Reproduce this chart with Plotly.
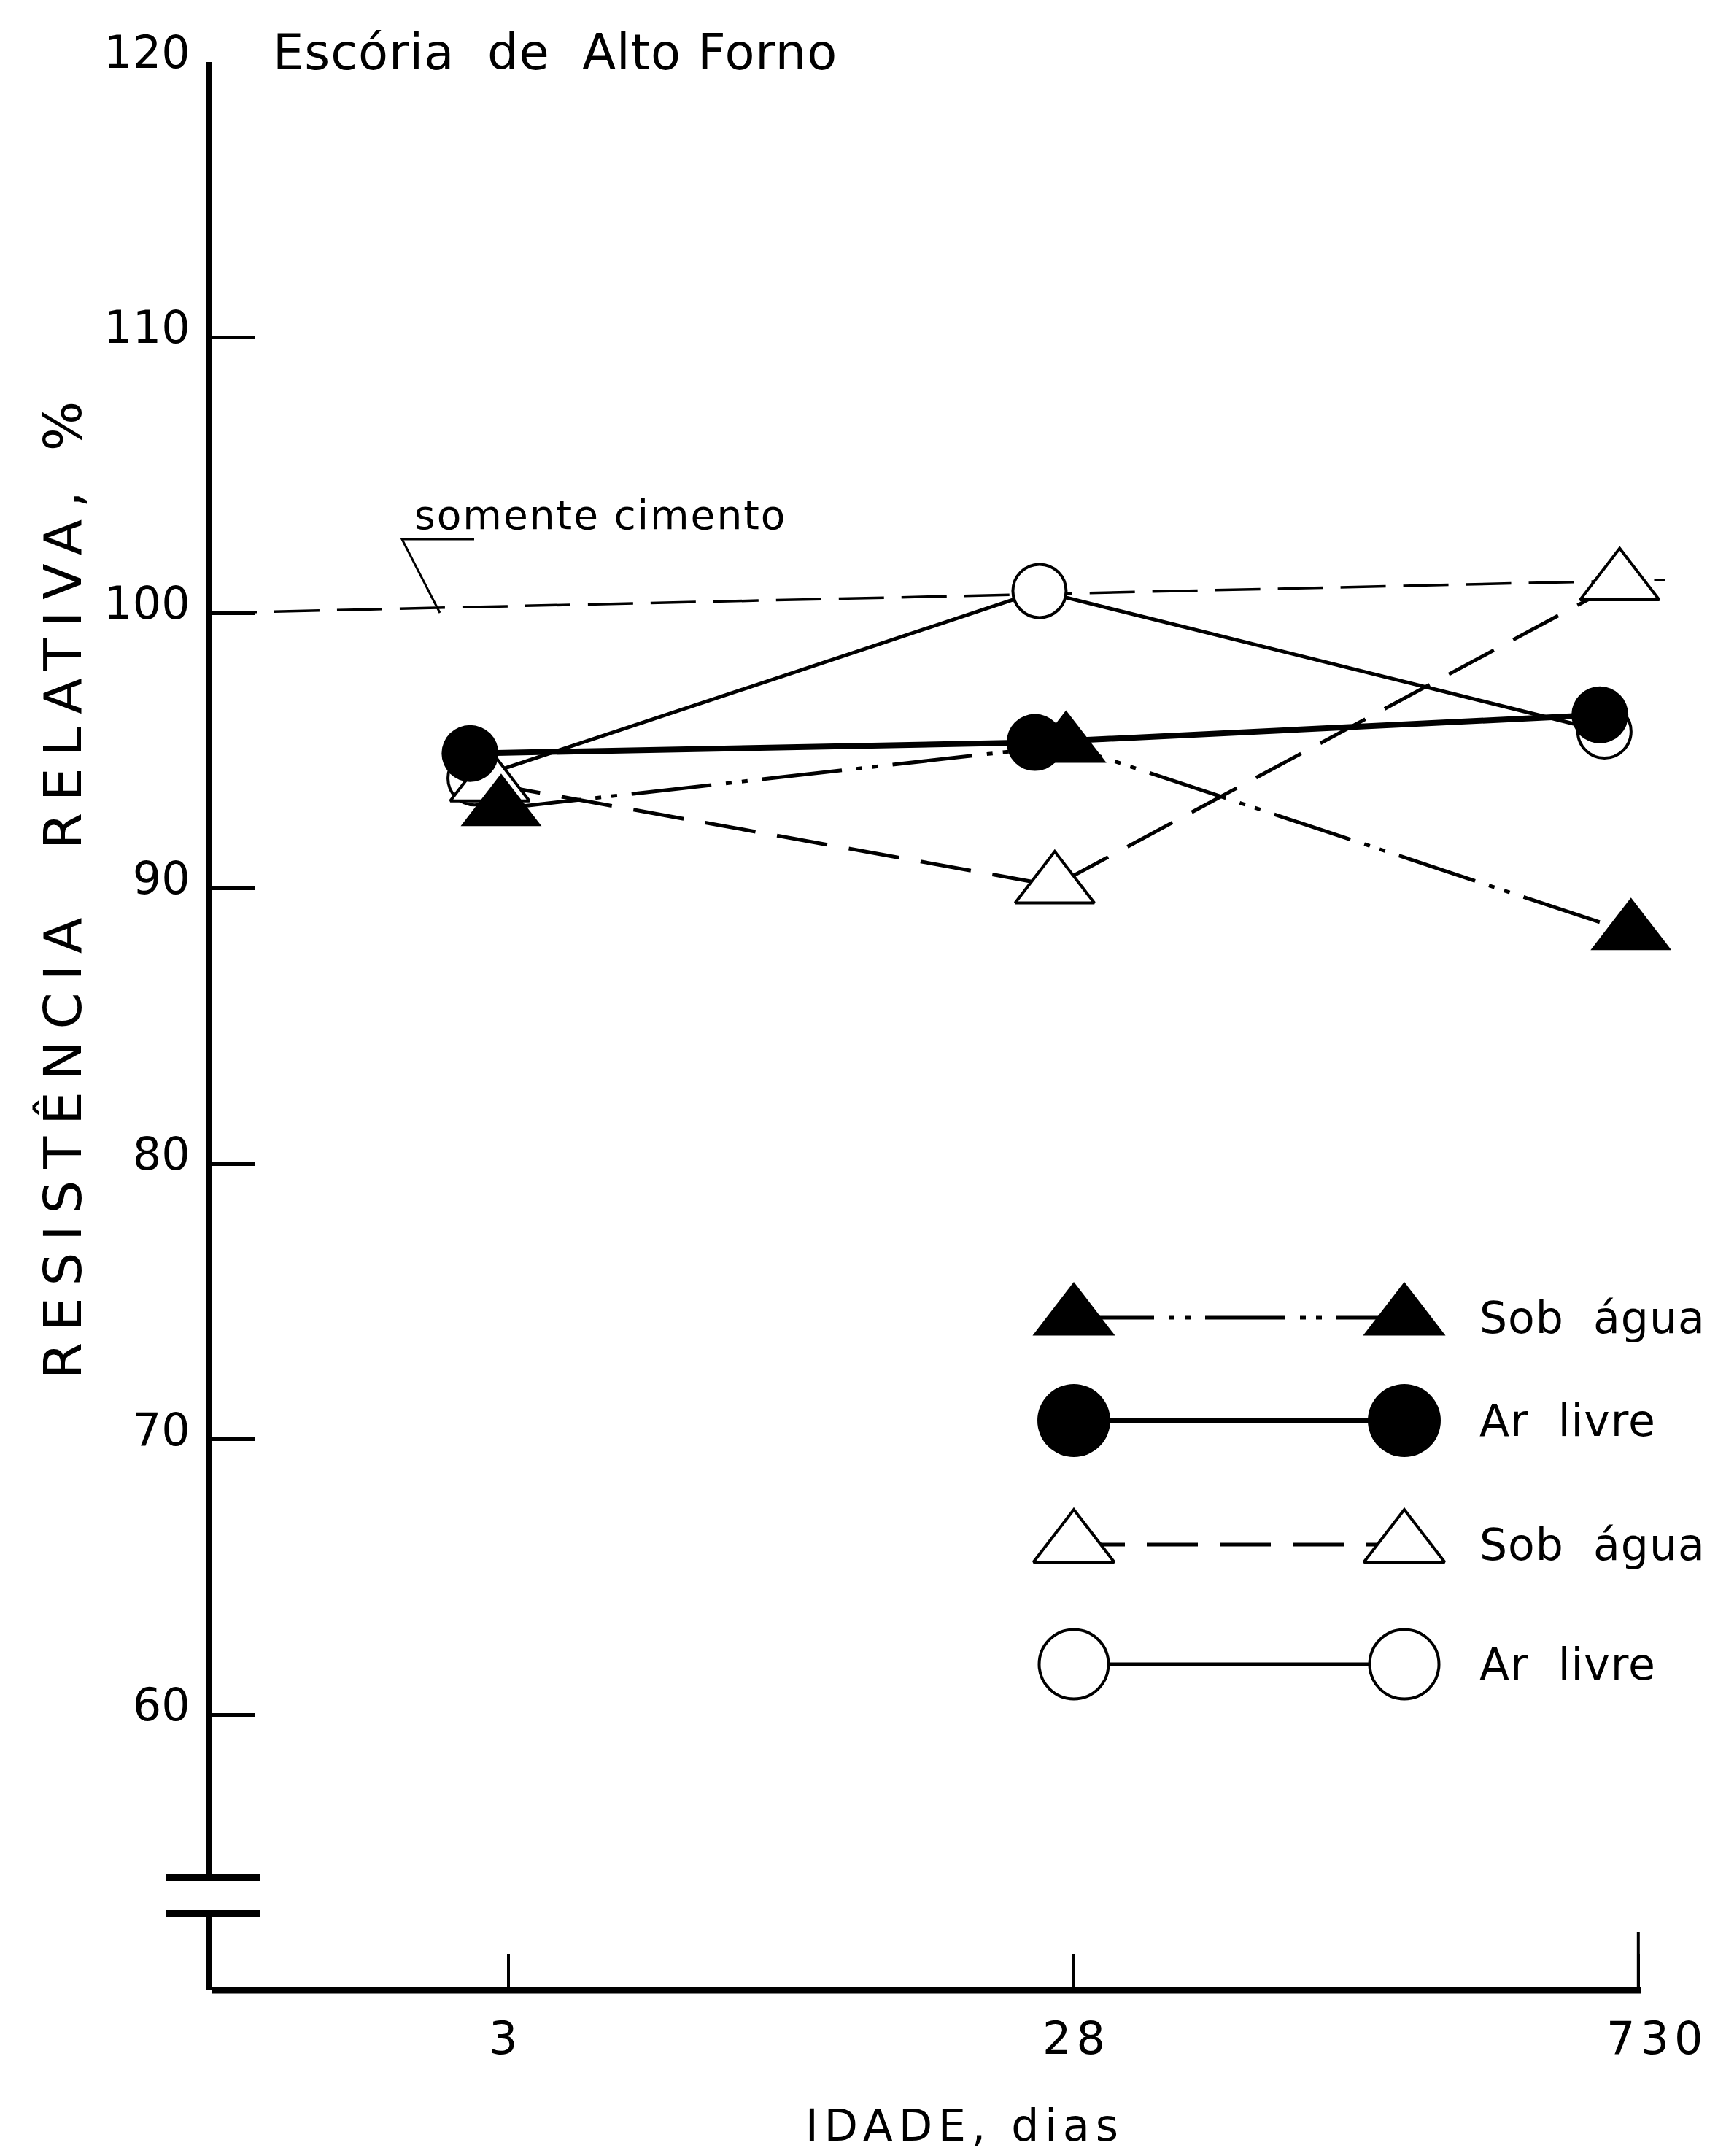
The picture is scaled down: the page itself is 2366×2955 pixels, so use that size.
import plotly.graph_objects as go

# ---------------------------------------------------------------------------
# Data: relative compressive strength (%) of blast-furnace slag mortars
# ---------------------------------------------------------------------------
ages = ["3", "28", "730"]                 # age, days (category axis)
age_pos = [1, 2, 3]

sob_agua_cheio = [92.9, 95.2, 88.4]       # filled triangles, cured under water
ar_livre_cheio = [94.9, 95.3, 96.3]       # filled circles, cured in open air
sob_agua_vazio = [93.8, 90.1, 101.1]      # open triangles, cured under water
ar_livre_vazio = [94.0, 100.8, 95.7]      # open circles, cured in open air
somente_cimento = [100.0, 101.2]          # plain-cement reference line

y_ticks = [60, 70, 80, 90, 100, 110, 120]
legend_labels = ["Sob água", "Ar livre", "Sob água", "Ar livre"]

# ---------------------------------------------------------------------------
# Page geometry (pixels) and helpers
# ---------------------------------------------------------------------------
W, H = 2366, 2955
FONT = "DejaVu Sans"
INK = "black"

PLOT_L, PLOT_R = 290, 2300          # plot area, horizontal
PLOT_T, PLOT_B = 85, 2728           # plot area, vertical
X1_PX, X_SCALE = 697, 774.4         # pixel of first age tick, px per category
X_AXIS_END_PX = 2249                # x axis line stops at the last tick
CEMENT_END_PX = 2282

def px_x(p):
    return p / W

def px_y(p):
    return 1 - p / H

def cat_x(p):
    return 1 + (p - X1_PX) / X_SCALE

x_min, x_max = cat_x(PLOT_L), cat_x(PLOT_R)
y_min, y_max = 50.0, 120.0

# small horizontal dodge so overlapping symbols stay readable
dodge = {"tri_f": -0.013, "circ_f": -0.068, "tri_o": -0.033, "circ_o": -0.060}
# horizontal nudge of the age labels (px)
age_label_shift = [-4, 4, 26]

DASH_DOT2 = "110px,20px,8px,14px,8px,20px"
DASHED = "70px,30px"
CEMENT_DASH = "62px,24px"

styles = {
    "tri_f": dict(symbol="triangle-up", size=96, color=INK, line=dict(width=0, color=INK)),
    "circ_f": dict(symbol="circle", size=78, color=INK, line=dict(width=0, color=INK)),
    "tri_o": dict(symbol="triangle-up", size=94, color="white", line=dict(width=4, color=INK)),
    "circ_o": dict(symbol="circle", size=73, color="white", line=dict(width=4, color=INK)),
}
line_styles = {
    "tri_f": dict(color=INK, width=5, dash=DASH_DOT2),
    "circ_f": dict(color=INK, width=8),
    "tri_o": dict(color=INK, width=5, dash=DASHED),
    "circ_o": dict(color=INK, width=5),
}

fig = go.Figure()

# plain cement reference
fig.add_trace(go.Scatter(
    x=[x_min, cat_x(CEMENT_END_PX)], y=somente_cimento, mode="lines",
    line=dict(color=INK, width=3.5, dash=CEMENT_DASH), hoverinfo="skip",
    showlegend=False))

series = [
    ("circ_o", ar_livre_vazio),
    ("tri_o", sob_agua_vazio),
    ("circ_f", ar_livre_cheio),
    ("tri_f", sob_agua_cheio),
]
for key, vals in series:
    fig.add_trace(go.Scatter(
        x=[p + dodge[key] for p in age_pos], y=vals, mode="lines+markers",
        line=line_styles[key], marker=styles[key], cliponaxis=False,
        showlegend=False))

# hand-drawn style legend: marker - line - marker, then the label
legend_rows = [1806, 1947, 2117, 2281]
legend_keys = ["tri_f", "circ_f", "tri_o", "circ_o"]
LEG_X0, LEG_X1, LEG_TXT = 1472, 1925, 2026
for key, row, label in zip(legend_keys, legend_rows, legend_labels):
    mk = dict(styles[key])
    mk["size"] = mk["size"] + (22 if mk["symbol"] == "circle" else 2)
    fig.add_trace(go.Scatter(
        x=[LEG_X0, LEG_X1], y=[row, row], mode="lines+markers",
        line=line_styles[key], marker=mk, xaxis="x2", yaxis="y2",
        cliponaxis=False, showlegend=False, hoverinfo="skip"))

annotations = []
for row, label in zip(legend_rows, legend_labels):
    annotations.append(dict(
        x=px_x(LEG_TXT), y=px_y(row), xref="paper", yref="paper",
        xanchor="left", yanchor="middle", showarrow=False,
        text=f'<span style="letter-spacing:1px">{label.replace(" ", "  ")}</span>',
        font=dict(family=FONT, size=60, color=INK)))

# age labels under the x axis
for pos, label, shift in zip(age_pos, ages, age_label_shift):
    annotations.append(dict(
        x=pos, y=px_y(2793), xref="x", yref="paper", xshift=shift,
        xanchor="center", yanchor="middle", showarrow=False,
        text=f'<span style="letter-spacing:7px">{label}</span>',
        font=dict(family=FONT, size=62, color=INK)))

annotations += [
    dict(x=px_x(372), y=px_y(72), xref="paper", yref="paper",
         xanchor="left", yanchor="middle", showarrow=False,
         text='<span style="letter-spacing:1px">Escória  de  Alto Forno</span>',
         font=dict(family=FONT, size=67, color=INK)),
    dict(x=px_x(86), y=px_y(1212), xref="paper", yref="paper",
         xanchor="center", yanchor="middle", showarrow=False, textangle=-90,
         text='<span style="letter-spacing:16px">RESISTÊNCIA  RELATIVA, %</span>',
         font=dict(family=FONT, size=72, color=INK)),
    dict(x=px_x(1322), y=px_y(2913), xref="paper", yref="paper",
         xanchor="center", yanchor="middle", showarrow=False,
         text='<span style="letter-spacing:8px">IDADE, dias</span>',
         font=dict(family=FONT, size=60, color=INK)),
    dict(x=px_x(566), y=px_y(706), xref="paper", yref="paper",
         xanchor="left", yanchor="middle", showarrow=False,
         text='<span style="letter-spacing:2px">somente cimento</span>',
         font=dict(family=FONT, size=55, color=INK)),
]

def seg(x0, y0, x1, y1, width, color=INK):
    return dict(type="line", xref="paper", yref="paper",
                x0=px_x(x0), y0=px_y(y0), x1=px_x(x1), y1=px_y(y1),
                line=dict(color=color, width=width), layer="above")

shapes = [
    # x axis line, ending at the last age tick
    dict(type="line", xref="x", yref="paper", x0=x_min, x1=cat_x(X_AXIS_END_PX),
         y0=px_y(PLOT_B), y1=px_y(PLOT_B), line=dict(color=INK, width=9)),
    # taller end tick closing the x axis
    dict(type="line", xref="x", yref="paper", x0=3, x1=3,
         y0=px_y(PLOT_B), y1=px_y(PLOT_B - 80), line=dict(color=INK, width=4)),
    # axis break on the y axis
    dict(type="rect", xref="paper", yref="paper",
         x0=px_x(PLOT_L - 15), x1=px_x(PLOT_L + 15), y0=px_y(2578), y1=px_y(2618),
         line=dict(width=0), fillcolor="white", layer="above"),
    seg(PLOT_L - 62, 2573, PLOT_L + 66, 2573, 10),
    seg(PLOT_L - 62, 2623, PLOT_L + 66, 2623, 10),
    # leader from the "somente cimento" label to the reference line
    dict(type="path", xref="paper", yref="paper",
         path=(f"M {px_x(650)},{px_y(739)} L {px_x(551)},{px_y(739)} "
               f"L {px_x(603)},{px_y(840)}"),
         line=dict(color=INK, width=3)),
]

fig.update_layout(
    width=W, height=H, margin=dict(l=0, r=0, t=0, b=0, autoexpand=False),
    paper_bgcolor="white", plot_bgcolor="rgba(0,0,0,0)",
    font=dict(family=FONT, color=INK),
    xaxis=dict(
        domain=[px_x(PLOT_L), px_x(PLOT_R)], range=[x_min, x_max],
        tickvals=age_pos, showticklabels=False,
        ticks="inside", ticklen=50, tickwidth=4, tickcolor=INK,
        showline=False, showgrid=False, zeroline=False, automargin=False),
    yaxis=dict(
        domain=[px_y(PLOT_B), px_y(PLOT_T)], range=[y_min, y_max],
        tickvals=y_ticks, ticktext=[str(v) for v in y_ticks],
        ticks="inside", ticklen=60, tickwidth=5, tickcolor=INK,
        showline=True, linewidth=7, linecolor=INK,
        showgrid=False, zeroline=False, automargin=False,
        tickfont=dict(family=FONT, size=62, color=INK),
        ticklabelstandoff=10, ticklabelshift=-14),
    xaxis2=dict(domain=[0, 1], range=[0, W], visible=False, anchor="y2",
                automargin=False),
    yaxis2=dict(domain=[0, 1], range=[H, 0], visible=False, anchor="x2",
                automargin=False),
    annotations=annotations,
    shapes=shapes,
    showlegend=False,
)

fig.write_html("out.html")
